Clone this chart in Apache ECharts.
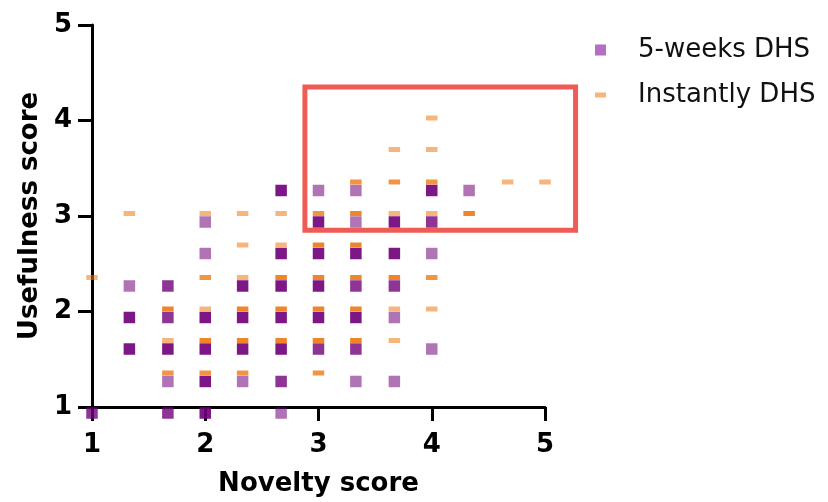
<!DOCTYPE html>
<html>
<head>
<meta charset="utf-8">
<script src="https://cdn.jsdelivr.net/npm/echarts@6/dist/echarts.min.js"></script>
<style>
  html, body { margin: 0; padding: 0; background: #fff; }
  #chart { width: 828px; height: 502px; }
</style>
</head>
<body>
<div id="chart"></div>
<script>
// [novelty, usefulness, number of overlapping answers]
var weeksPoints = [
    [1, 1, 2],
    [1.33, 2.33, 1], [1.33, 2, 3], [1.33, 1.67, 3],
    [1.67, 2.33, 2], [1.67, 2, 2], [1.67, 1.67, 3], [1.67, 1.33, 1], [1.67, 1, 2],
    [2, 3, 1], [2, 2.67, 1], [2, 2, 3], [2, 1.67, 3], [2, 1.33, 3], [2, 1, 3],
    [2.33, 2.33, 3], [2.33, 2, 3], [2.33, 1.67, 3], [2.33, 1.33, 1],
    [2.67, 3.33, 3], [2.67, 2.67, 3], [2.67, 2.33, 3], [2.67, 2, 3], [2.67, 1.67, 3], [2.67, 1.33, 2], [2.67, 1, 1],
    [3, 3.33, 1], [3, 3, 3], [3, 2.67, 3], [3, 2.33, 3], [3, 2, 3], [3, 1.67, 2],
    [3.33, 3.33, 1], [3.33, 3, 1], [3.33, 2.67, 3], [3.33, 2.33, 2], [3.33, 2, 3], [3.33, 1.67, 2], [3.33, 1.33, 1],
    [3.67, 3, 3], [3.67, 2.67, 3], [3.67, 2.33, 2], [3.67, 2, 1], [3.67, 1.33, 1],
    [4, 3.33, 3], [4, 3, 2], [4, 2.67, 1], [4, 1.67, 1],
    [4.33, 3.33, 1]
];
var instantPoints = [
    [1, 2.33, 1],
    [1.33, 3, 1],
    [1.67, 2, 3], [1.67, 1.67, 1], [1.67, 1.33, 2],
    [2, 3, 1], [2, 2.33, 2], [2, 2, 1], [2, 1.67, 3], [2, 1.33, 2],
    [2.33, 3, 1], [2.33, 2.67, 1], [2.33, 2.33, 1], [2.33, 2, 3], [2.33, 1.67, 3], [2.33, 1.33, 2],
    [2.67, 3, 1], [2.67, 2.67, 1], [2.67, 2.33, 3], [2.67, 2, 3], [2.67, 1.67, 3],
    [3, 3, 2], [3, 2.67, 3], [3, 2.33, 3], [3, 2, 3], [3, 1.67, 3], [3, 1.33, 2],
    [3.33, 3.33, 2], [3.33, 3, 3], [3.33, 2.67, 3], [3.33, 2.33, 3], [3.33, 2, 3], [3.33, 1.67, 3],
    [3.67, 3.67, 1], [3.67, 3.33, 2], [3.67, 3, 1], [3.67, 2.33, 3], [3.67, 2, 1], [3.67, 1.67, 1],
    [4, 4, 1], [4, 3.67, 1], [4, 3.33, 2], [4, 3, 1], [4, 2.33, 2], [4, 2, 1],
    [4.33, 3, 3],
    [4.67, 3.33, 1],
    [5, 3.33, 1]
];
var axisTicks = [1, 2, 3, 4, 5];
// red box drawn round the upper right group (data units)
var highlightBox = { x0: 2.88, x1: 5.27, y0: 2.85, y1: 4.35 };

var font = 'DejaVu Sans';
var alpha = 0.55;

// overlapping translucent marks get darker
function stacked(rgb) {
    return function (p) {
        var a = 1 - Math.pow(1 - alpha, p.data[2]);
        return 'rgba(' + rgb + ',' + a.toFixed(3) + ')';
    };
}

var chart = echarts.init(document.getElementById('chart'));

var axisCommon = {
    type: 'value',
    min: axisTicks[0],
    max: axisTicks[axisTicks.length - 1],
    interval: 1,
    splitLine: { show: false },
    axisLine: { lineStyle: { color: '#000', width: 3 } },
    axisTick: { length: 14, lineStyle: { color: '#000', width: 3 } },
    nameLocation: 'middle',
    nameTextStyle: { color: '#000', fontFamily: font, fontWeight: 'bold', fontSize: 26 }
};

var option = {
    animation: false,
    grid: { left: 92, right: 283, top: 25, bottom: 94 },
    xAxis: Object.assign({}, axisCommon, {
        name: 'Novelty score',
        nameGap: 64,
        axisLabel: { margin: 25, color: '#000', fontFamily: font, fontWeight: 'bold', fontSize: 26 }
    }),
    yAxis: Object.assign({}, axisCommon, {
        name: 'Usefulness score',
        nameGap: 43,
        axisLabel: { margin: 20, color: '#000', fontFamily: font, fontWeight: 'bold', fontSize: 26 }
    }),
    legend: [{
        left: 590, top: 32,
        itemWidth: 11, itemHeight: 11,
        data: [{ name: '5-weeks DHS', icon: 'rect', itemStyle: { color: '#b46ec3', opacity: 1 } }],
        textStyle: { color: '#111', fontFamily: font, fontSize: 26, padding: [0, 0, 0, 27] }
    }, {
        left: 590, top: 77,
        itemWidth: 11, itemHeight: 5,
        data: [{ name: 'Instantly DHS', icon: 'rect', itemStyle: { color: '#f6b679', opacity: 1 } }],
        textStyle: { color: '#111', fontFamily: font, fontSize: 26, padding: [0, 0, 0, 27] }
    }],
    series: [{
        name: '5-weeks DHS',
        type: 'scatter',
        clip: false,
        symbol: 'rect',
        symbolSize: [11.5, 11.5],
        symbolOffset: [0, 6],
        itemStyle: { color: stacked('112,0,122'), opacity: 1 },
        data: weeksPoints
    }, {
        name: 'Instantly DHS',
        type: 'scatter',
        clip: false,
        symbol: 'rect',
        symbolSize: [11.5, 5],
        symbolOffset: [0, -2.5],
        itemStyle: { color: stacked('240,120,20'), opacity: 1 },
        data: instantPoints
    }]
};
chart.setOption(option);

// red box, placed through the grid's own scales
var p0 = chart.convertToPixel({ gridIndex: 0 }, [highlightBox.x0, highlightBox.y1]);
var p1 = chart.convertToPixel({ gridIndex: 0 }, [highlightBox.x1, highlightBox.y0]);
chart.setOption({
    graphic: [{
        type: 'rect',
        shape: { x: p0[0], y: p0[1], width: p1[0] - p0[0], height: p1[1] - p0[1] },
        style: { fill: 'none', stroke: '#ef5b55', lineWidth: 5 },
        z: 10
    }]
});
</script>
</body>
</html>
